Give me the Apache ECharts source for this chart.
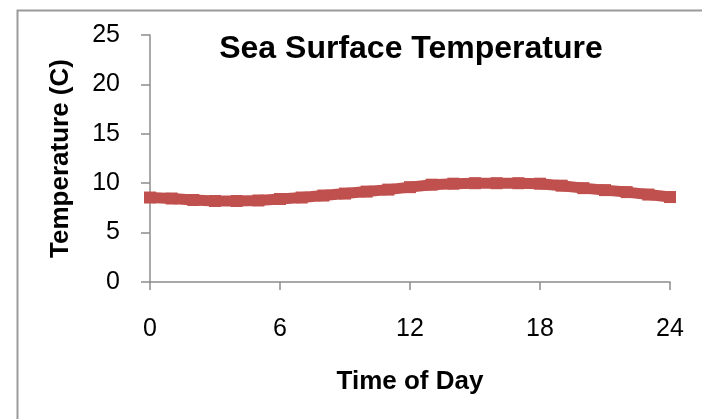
<!DOCTYPE html>
<html>
<head>
<meta charset="utf-8">
<script src="https://cdn.jsdelivr.net/npm/echarts@6/dist/echarts.min.js"></script>
<style>
html,body{margin:0;padding:0;background:#fff;}
#chart{width:702px;height:419px;}
</style>
</head>
<body>
<div id="chart"></div>
<script>
// Data
const hours = [0,1,2,3,4,5,6,7,8,9,10,11,12,13,14,15,16,17,18,19,20,21,22,23,24];
const temperature = [8.55,8.45,8.3,8.2,8.2,8.25,8.4,8.55,8.75,8.95,9.15,9.35,9.6,9.85,9.95,10.0,10.0,10.0,9.95,9.75,9.5,9.3,9.1,8.85,8.6];
const xTicks = [0,6,12,18,24];
const yTicks = [0,5,10,15,20,25];
const titleText = 'Sea Surface Temperature';
const xName = 'Time of Day';
const yName = 'Temperature (C)';

const FONT = '"Liberation Sans", Arial, sans-serif';
const chart = echarts.init(document.getElementById('chart'), null, {renderer:'canvas'});
chart.setOption({
  animation:false,
  backgroundColor:'#fff',
  graphic:[{
    type:'rect', left:15, top:8, shape:{x:0,y:0,width:720,height:440},
    style:{fill:'none', stroke:'#9a9a9a', lineWidth:2}, silent:true, z:-1
  }],
  title:{
    text:titleText, left:406, top:28, textAlign:'center',
    textStyle:{fontFamily:FONT, fontSize:32, fontWeight:'bold', color:'#000'}
  },
  grid:{left:150, right:32, top:35, bottom:137, containLabel:false},
  xAxis:{
    type:'value', min:xTicks[0], max:xTicks[xTicks.length-1], interval:6,
    name:xName, nameLocation:'middle', nameGap:87,
    nameTextStyle:{fontFamily:FONT, fontSize:26, fontWeight:'bold', color:'#000'},
    axisLine:{show:true, onZero:false, lineStyle:{color:'#8c8c8c', width:1.5}},
    axisTick:{show:true, inside:false, length:8, lineStyle:{color:'#8c8c8c', width:1.5}},
    axisLabel:{fontFamily:FONT, fontSize:25, color:'#000', margin:35},
    splitLine:{show:false}
  },
  yAxis:{
    type:'value', min:yTicks[0], max:yTicks[yTicks.length-1], interval:5,
    name:yName, nameLocation:'middle', nameGap:76, nameRotate:90,
    nameTextStyle:{fontFamily:FONT, fontSize:26, fontWeight:'bold', color:'#000'},
    axisLine:{show:true, lineStyle:{color:'#8c8c8c', width:1.5}},
    axisTick:{show:true, inside:false, length:9, lineStyle:{color:'#8c8c8c', width:1.5}},
    axisLabel:{fontFamily:FONT, fontSize:25, color:'#000', margin:30},
    splitLine:{show:false}
  },
  series:[{
    type:'line',
    data:hours.map((h,i)=>[h,temperature[i]]),
    symbol:'rect', symbolSize:12, showSymbol:true,
    itemStyle:{color:'#C0504D'},
    lineStyle:{color:'#C0504D', width:11},
    smooth:false
  }]
});
</script>
</body>
</html>
